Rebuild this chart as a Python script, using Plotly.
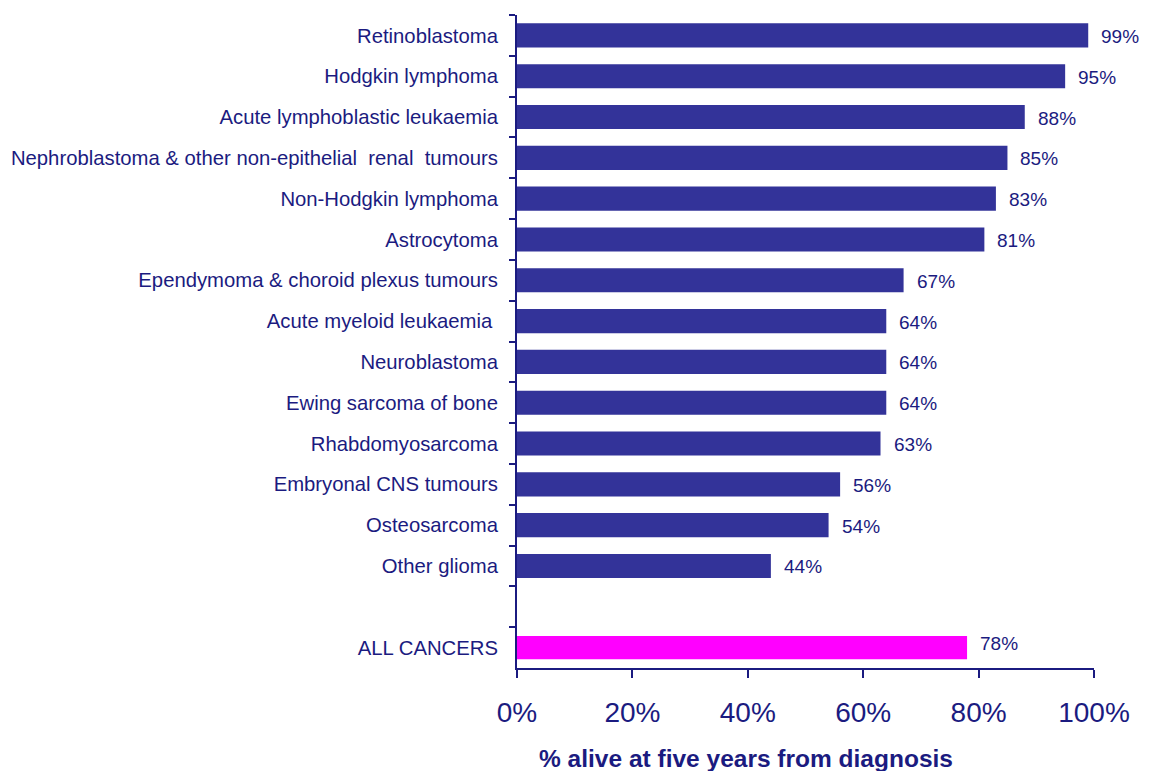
import plotly.graph_objects as go

# Five-year survival by childhood cancer type
cancer_types = [
    "Retinoblastoma",
    "Hodgkin lymphoma",
    "Acute lymphoblastic leukaemia",
    "Nephroblastoma & other non-epithelial  renal  tumours",
    "Non-Hodgkin lymphoma",
    "Astrocytoma",
    "Ependymoma & choroid plexus tumours",
    "Acute myeloid leukaemia ",
    "Neuroblastoma",
    "Ewing sarcoma of bone",
    "Rhabdomyosarcoma",
    "Embryonal CNS tumours",
    "Osteosarcoma",
    "Other glioma",
]
survival_pct = [99, 95, 88, 85, 83, 81, 67, 64, 64, 64, 63, 56, 54, 44]

total_label = "ALL CANCERS"
total_pct = 78

x_ticks = [0, 20, 40, 60, 80, 100]
x_tick_text = ["0%", "20%", "40%", "60%", "80%", "100%"]

NAVY = "#1b1b80"
BAR = "#333399"
PINK = "#ff00ff"
FONT = "Arial, Liberation Sans, sans-serif"

spacer = " "
categories = cancer_types + [spacer, total_label]

fig = go.Figure()
fig.add_trace(go.Bar(
    x=survival_pct, y=cancer_types, orientation="h",
    marker=dict(color=BAR, line=dict(width=0)), width=0.59,
    hoverinfo="x+y",
))
fig.add_trace(go.Bar(
    x=[total_pct], y=[total_label], orientation="h",
    marker=dict(color=PINK, line=dict(width=0)), width=0.57,
    hoverinfo="x+y",
))

# value labels just past each bar end
for name, v in zip(cancer_types + [total_label], survival_pct + [total_pct]):
    fig.add_annotation(
        x=v, y=name, text=f"{v}%", showarrow=False,
        xanchor="left", xshift=11, yshift=-1 if name != total_label else 4,
        font=dict(family=FONT, size=19, color=NAVY),
    )

# axis title, placed below the tick labels
fig.add_annotation(
    xref="paper", yref="paper",
    x=(746 - 517) / (1094 - 517), y=-(758 - 668) / (668 - 15),
    text="<b>% alive at five years from diagnosis</b>",
    showarrow=False, xanchor="center", yanchor="middle",
    font=dict(family=FONT, size=24.5, color=NAVY),
)

fig.update_layout(
    width=1154, height=771,
    margin=dict(l=517, r=60, t=15, b=103),
    paper_bgcolor="white", plot_bgcolor="white",
    showlegend=False, bargap=0.4,
    font=dict(family=FONT, color=NAVY),
    xaxis=dict(
        range=[0, 100], tickvals=x_ticks, ticktext=x_tick_text,
        showgrid=False, zeroline=False, automargin=False,
        showline=True, linecolor=NAVY, linewidth=2,
        ticks="outside", ticklen=8, tickwidth=2, tickcolor=NAVY,
        tickfont=dict(family=FONT, size=28, color=NAVY),
        ticklabelstandoff=10,
    ),
    yaxis=dict(
        type="category", categoryorder="array", categoryarray=categories,
        range=[len(categories) - 0.5, -0.5],
        showgrid=False, zeroline=False, automargin=False,
        showline=True, linecolor=NAVY, linewidth=2,
        ticks="outside", ticklen=6, tickwidth=2, tickcolor=NAVY,
        tickson="boundaries",
        tickfont=dict(family=FONT, size=20.3, color=NAVY),
        ticklabelstandoff=13,
    ),
)

fig.write_html("out.html")
